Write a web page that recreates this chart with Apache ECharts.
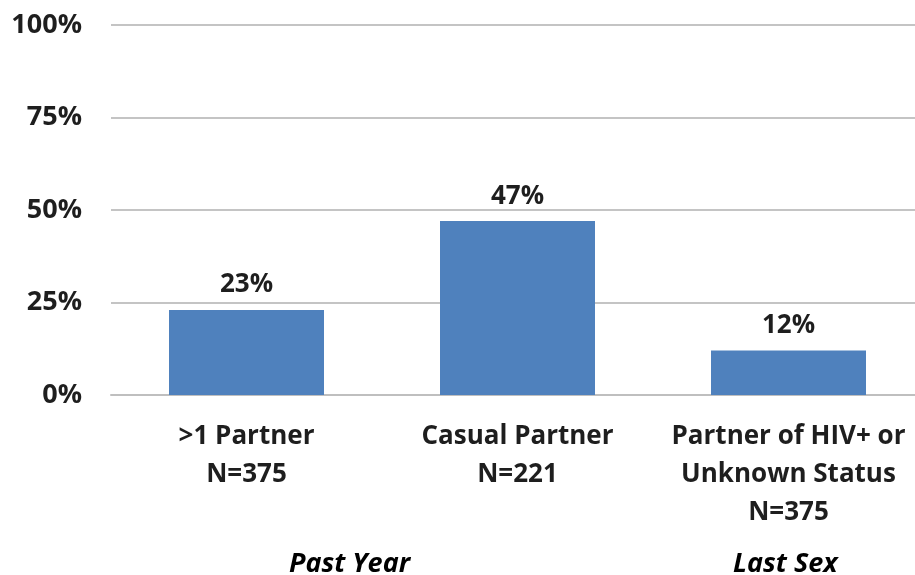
<!DOCTYPE html>
<html>
<head>
<meta charset="utf-8">
<script src="https://cdn.jsdelivr.net/npm/echarts@6/dist/echarts.min.js"></script>
<style>html,body{margin:0;padding:0;background:#fff;overflow:hidden;width:915px;height:575px;}#c{width:924px;height:575px;}</style>
</head>
<body>
<div id="c"></div>
<script>
const categories = ['>1 Partner\nN=375', 'Casual Partner\nN=221', 'Partner of HIV+ or\nUnknown Status\nN=375'];
const values = [23, 47, 12];
const yTicks = [0, 25, 50, 75, 100];
const groupLabels = ['Past Year', 'Last Sex'];

const FONT = '"Open Sans", sans-serif';
const chart = echarts.init(document.getElementById('c'));
chart.setOption({
  animation: false,
  grid: { left: 111, right: 0, top: 25, bottom: 180 },
  xAxis: {
    type: 'category',
    data: categories,
    axisLine: { show: true, lineStyle: { color: '#bfbfbf', width: 2 } },
    axisTick: { show: false },
    axisLabel: {
      interval: 0, margin: 23,
      fontFamily: FONT, fontWeight: 'bold', fontSize: 26, color: '#1e1e1e',
      lineHeight: 38
    }
  },
  yAxis: {
    type: 'value', min: 0, max: 100, interval: 25,
    axisLine: { show: false }, axisTick: { show: false },
    splitLine: { lineStyle: { color: '#c4c4c4', width: 2 } },
    axisLabel: {
      margin: 29,
      formatter: v => yTicks.includes(v) ? v + '%' : '',
      fontFamily: FONT, fontWeight: 'bold', fontSize: 27, color: '#1e1e1e'
    }
  },
  series: [{
    type: 'bar',
    data: values,
    barWidth: 155,
    itemStyle: { color: '#4F81BD' },
    label: {
      show: true, position: 'top', distance: 12,
      formatter: p => p.value + '%',
      fontFamily: FONT, fontWeight: 'bold', fontSize: 26, color: '#1e1e1e'
    }
  }],
  graphic: [
    { type: 'text', left: 289, top: 551, style: { text: groupLabels[0], font: 'italic bold 27px ' + FONT, fill: '#000' } },
    { type: 'text', left: 733, top: 551, style: { text: groupLabels[1], font: 'italic bold 27px ' + FONT, fill: '#000' } }
  ]
});
</script>
</body>
</html>
